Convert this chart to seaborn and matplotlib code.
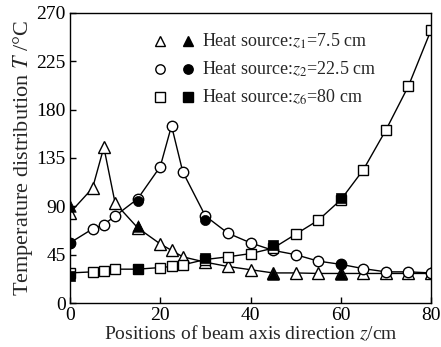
import matplotlib
matplotlib.use("Agg")
import matplotlib.pyplot as plt
from matplotlib.lines import Line2D
from matplotlib.legend_handler import HandlerTuple
import seaborn as sns

# Simulated temperature along the beam axis (open markers, joined by lines)
z1_pos = [0, 5, 7.5, 10, 15, 20, 22.5, 25, 30, 35, 40, 45, 50, 55, 60, 65, 70, 75, 80]
z1_sim = [84, 107, 145, 93, 70, 55, 49, 43, 38, 34, 31, 28, 28, 27.5, 27.5, 27.5, 27.5, 27.5, 27.5]
z2_pos = [0, 5, 7.5, 10, 15, 20, 22.5, 25, 30, 35, 40, 45, 50, 55, 60, 65, 70, 75, 80]
z2_sim = [56, 69, 73, 81, 97, 127, 165, 122, 81, 65, 56, 49, 45, 39, 36, 32, 29, 29, 28]
z6_pos = [0, 5, 7.5, 10, 15, 20, 22.5, 25, 30, 35, 40, 45, 50, 55, 60, 65, 70, 75, 80]
z6_sim = [28, 29, 30, 31.5, 31.5, 33, 34, 35.5, 40.5, 43, 46, 51, 64, 77, 96, 124, 161, 202, 254]

# Measured temperatures (filled markers)
z1_meas_pos = [0, 15, 45, 60]
z1_meas = [90, 72, 27, 27]
z2_meas_pos = [0, 15, 30, 60]
z2_meas = [56, 95, 77, 36]
z6_meas_pos = [0, 15, 30, 45, 60]
z6_meas = [25, 31.5, 42, 54, 98]

labels = [r"Heat source:$z_1$=7.5 cm",
          r"Heat source:$z_2$=22.5 cm",
          r"Heat source:$z_6$=80 cm"]

sns.set_style("ticks")
plt.rcParams["font.family"] = ["Liberation Serif", "DejaVu Serif"]
plt.rcParams["mathtext.fontset"] = "stix"

fig = plt.figure(figsize=(4.41, 3.47), dpi=100)
ax = fig.add_axes([70 / 441, 44 / 347, 361 / 441, 290 / 347])

series = [
    (z1_pos, z1_sim, z1_meas_pos, z1_meas, "^", 8.5),
    (z2_pos, z2_sim, z2_meas_pos, z2_meas, "o", 7.5),
    (z6_pos, z6_sim, z6_meas_pos, z6_meas, "s", 7.5),
]

handles = []
for pos, sim, mpos, meas, mk, ms in series:
    sns.lineplot(x=pos, y=sim, ax=ax, color="black", linewidth=1.0,
                 marker=mk, markersize=ms, markerfacecolor="white",
                 markeredgecolor="black", markeredgewidth=1.0, zorder=2)
    sns.scatterplot(x=mpos, y=meas, ax=ax, marker=mk, color="black",
                    edgecolor="black", s=ms ** 2 * 0.95, zorder=3, linewidth=0.5)
    h_open = Line2D([], [], linestyle="none", marker=mk, markersize=ms * 0.9,
                    markerfacecolor="white", markeredgecolor="black")
    h_fill = Line2D([], [], linestyle="none", marker=mk, markersize=ms * 0.9,
                    markerfacecolor="black", markeredgecolor="black")
    handles.append((h_open, h_fill))

ax.set_xlim(0, 80)
ax.set_ylim(0, 270)
ax.set_xticks([0, 20, 40, 60, 80])
ax.set_yticks([0, 45, 90, 135, 180, 225, 270])
ax.tick_params(direction="in", length=4, width=1, labelsize=14, pad=3,
               colors="black")
for sp in ax.spines.values():
    sp.set_visible(True)
    sp.set_linewidth(1.0)
    sp.set_color("black")

ax.set_xlabel(r"Positions of beam axis direction $z$/cm", fontsize=14, labelpad=0)
ax.set_ylabel(r"Temperature distribution $T$ /°C", fontsize=16, labelpad=1)

ax.legend(handles, labels, handler_map={tuple: HandlerTuple(ndivide=None, pad=0.8)},
          loc="upper left", bbox_to_anchor=(0.2, 0.972), frameon=False,
          fontsize=13, handlelength=2.3, handletextpad=0.4, labelspacing=0.48,
          borderaxespad=0.2)

fig.savefig("out.png", dpi=100)
